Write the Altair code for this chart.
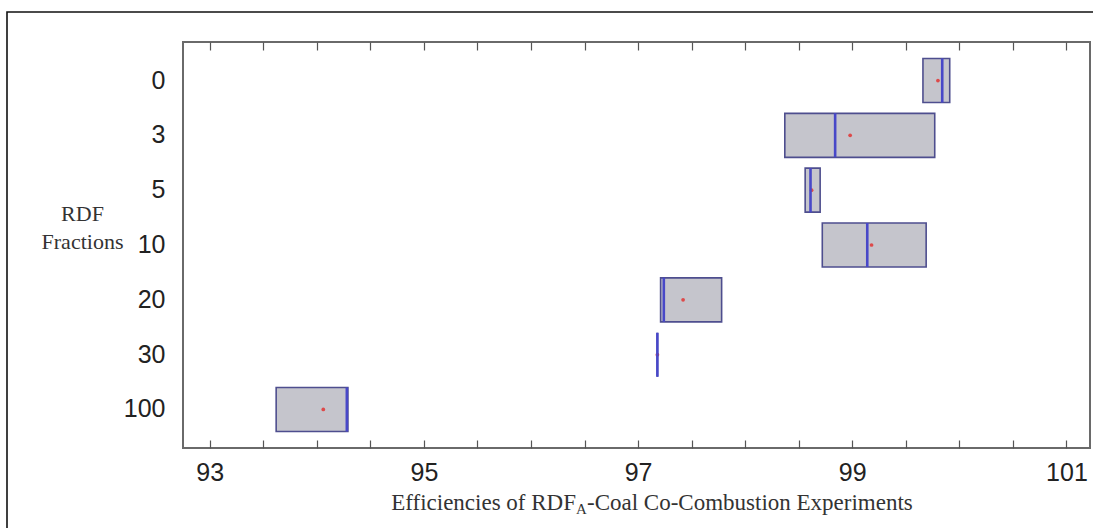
import altair as alt
import pandas as pd

# RDF fraction groups (top to bottom) and their box summaries
fractions = ["0", "3", "5", "10", "20", "30", "100"]
q1 = [99.66, 98.37, 98.56, 98.72, 97.21, 97.18, 93.62]
median = [99.84, 98.84, 98.61, 99.14, 97.24, 97.18, 94.28]
q3 = [99.91, 99.77, 98.70, 99.69, 97.78, 97.18, 94.29]
mean = [99.80, 98.98, 98.62, 99.18, 97.42, 97.18, 94.06]

# axis ticks every half unit, labels on odd integers
x_ticks = [93, 93.5, 94, 94.5, 95, 95.5, 96, 96.5, 97, 97.5,
           98, 98.5, 99, 99.5, 100, 100.5, 101]
x_domain = [92.75, 101.22]

df = pd.DataFrame({"fraction": fractions, "q1": q1, "median": median,
                   "q3": q3, "mean": mean})

W, H = 907, 406
SANS = "Liberation Sans"
SERIF = "Liberation Serif"

x_scale = alt.Scale(domain=x_domain, nice=False, zero=False)
y_scale = alt.Scale(domain=fractions, paddingInner=0.1975, paddingOuter=0.301)

y_axis = alt.Axis(
    title=["RDF", "Fractions"], titleAngle=0, titleFont=SERIF, titleFontSize=22,
    titleFontWeight="normal", titleColor="#333333", titleAlign="center",
    titleBaseline="alphabetic", titleX=-101, titleY=178, titleLineHeight=28,
    labelFont=SANS, labelFontSize=25, labelColor="#222222", labelPadding=18,
    ticks=False, tickSize=0, domain=False, grid=False,
)
bottom_axis = alt.Axis(
    orient="bottom", values=x_ticks, offset=-8, tickSize=8, tickColor="#555555",
    tickWidth=1.2, domain=False, grid=False, title=None, labelFont=SANS,
    labelFontSize=25, labelColor="#222222", labelPadding=12, labelFlush=False,
    labelExpr="datum.value % 2 == 1 ? format(datum.value, 'd') : ''",
)
top_axis = alt.Axis(
    orient="top", values=x_ticks, offset=-8, tickSize=8, tickColor="#555555",
    tickWidth=1.2, domain=False, grid=False, title=None, labels=False,
)

base = alt.Chart(df)
y_enc = alt.Y("fraction:N", scale=y_scale, sort=fractions, axis=y_axis)

boxes = base.mark_rect(fill="#c5c5cc", stroke="#4e4e8e", strokeWidth=1.6).encode(
    x=alt.X("q1:Q", scale=x_scale, axis=bottom_axis),
    x2="q3:Q",
    y=y_enc,
)

# mean markers sit under the median lines
means = base.mark_circle(color="#dd4a4a", size=14, opacity=1).encode(
    x=alt.X("mean:Q", scale=x_scale, axis=None),
    y=y_enc,
)

medians = base.mark_rect(fillOpacity=0, stroke="#4848c8", strokeWidth=2.6).encode(
    x=alt.X("median:Q", scale=x_scale, axis=top_axis),
    x2="median:Q",
    y=y_enc,
)

one = pd.DataFrame({"k": [0]})

# outer frame around the whole figure
border = alt.Chart(one).mark_rect(fillOpacity=0, stroke="#111111", strokeWidth=1.6).encode(
    x=alt.value(-176), x2=alt.value(940), y=alt.value(-30), y2=alt.value(520)
)

# x-axis title with subscripted "A"
title_y = 468
title_x = 576 - 183
t1 = alt.Chart(one).mark_text(
    text="Efficiencies of RDF", font=SERIF, fontSize=23, color="#333333",
    align="right", baseline="alphabetic",
).encode(x=alt.value(title_x), y=alt.value(title_y))
t2 = alt.Chart(one).mark_text(
    text="A", font=SERIF, fontSize=15, color="#333333",
    align="left", baseline="alphabetic",
).encode(x=alt.value(title_x), y=alt.value(title_y + 4))
t3 = alt.Chart(one).mark_text(
    text="-Coal Co-Combustion Experiments", font=SERIF, fontSize=23, color="#333333",
    align="left", baseline="alphabetic",
).encode(x=alt.value(title_x + 11), y=alt.value(title_y))

chart = (
    alt.layer(boxes, means, medians, border, t1, t2, t3)
    .resolve_axis(x="independent")
    .properties(
        width=W, height=H,
        autosize=alt.AutoSizeParams(type="none"),
        padding={"left": 183, "top": 42, "right": 3, "bottom": 80},
        background="white",
    )
    .configure_view(stroke="#6a6a6a", strokeWidth=2)
)

chart.save("out.html", embed_options={"renderer": "svg", "actions": False})
